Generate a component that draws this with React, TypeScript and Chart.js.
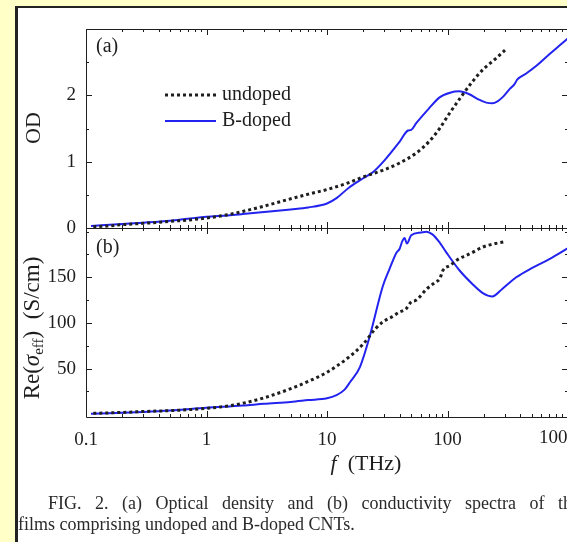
import React, { useEffect, useRef } from 'react';
import { Chart, registerables } from 'chart.js';
Chart.register(...registerables);

// ---------- data ----------
const freqUndopedOD = [0.115, 0.15, 0.2, 0.3, 0.5, 0.7, 1, 1.5, 2, 3, 5, 7, 10, 15, 20, 30, 40, 55, 70, 86, 104, 130, 160, 200, 250, 300];
const odUndoped = [0.02, 0.03, 0.05, 0.07, 0.10, 0.12, 0.15, 0.20, 0.25, 0.33, 0.44, 0.51, 0.58, 0.68, 0.77, 0.88, 0.98, 1.13, 1.30, 1.50, 1.73, 1.98, 2.20, 2.40, 2.55, 2.68];

const freqBdopedOD = [0.11, 0.2, 0.3, 0.5, 0.7, 1, 1.5, 2, 3, 5, 7, 10, 12, 15, 20, 24, 30, 40, 47, 50, 55, 70, 86, 105, 125, 150, 180, 210, 236, 260, 290, 330, 360, 380, 450, 550, 700, 850, 1000];
const odBdoped = [0.03, 0.06, 0.08, 0.11, 0.14, 0.17, 0.19, 0.21, 0.24, 0.28, 0.31, 0.37, 0.45, 0.60, 0.75, 0.84, 1.02, 1.30, 1.47, 1.48, 1.58, 1.80, 1.97, 2.04, 2.06, 2.02, 1.94, 1.89, 1.88, 1.91, 1.98, 2.10, 2.17, 2.24, 2.33, 2.45, 2.62, 2.75, 2.86];

const freqUndopedSigma = [0.115, 0.2, 0.3, 0.5, 0.7, 1, 1.5, 2, 3, 5, 7, 10, 15, 20, 25, 29, 35, 40, 45, 50, 55, 67, 80, 86, 92, 105, 120, 160, 195, 250, 300];
const sigmaUndoped = [1, 2, 3, 4, 5, 6.5, 9, 12, 18, 28, 36, 46, 62, 77, 93, 101, 107, 112, 115, 123, 125, 137, 145, 148, 158, 163, 169, 177, 183, 187, 189];

const freqBdopedSigma = [0.11, 0.3, 0.5, 1, 2, 3, 5, 7, 10, 12, 14, 15.5, 18.8, 22.6, 29, 33, 37.7, 40, 42, 44, 46, 50, 60, 67, 75, 85, 98, 125, 160, 195, 236, 283, 372, 500, 700, 1000];
const sigmaBdoped = [0.5, 2.5, 4, 7, 9.5, 11.5, 13.5, 15.5, 17.5, 21, 27, 35, 52, 85, 140, 159, 177, 181, 189, 193, 187, 196, 199, 200, 197, 189, 177, 158, 143, 133, 129, 137, 150, 160, 170, 182];

const xTickLabels = ['0.1', '1', '10', '100', '1000'];
const odTickLabels = ['0', '1', '2'];
const sigmaTickLabels = ['50', '100', '150'];
const seriesNames = ['undoped', 'B-doped'];

// ---------- styles ----------
const SERIF = "'Liberation Serif', 'Times New Roman', serif";
const INK = '#1e1e1e';
const BLUE = '#2323f0';
const W = 620;
const H = 542;

const toPoints = (xs: number[], ys: number[]) => xs.map((x, i) => ({ x, y: ys[i] }));

const xTickValues = (() => {
  const out: number[] = [];
  for (let d = -1; d <= 2; d++) {
    for (let m = 1; m <= 9; m++) out.push(m * Math.pow(10, d));
  }
  out.push(1000);
  return out;
})();

const isDecade = (v: number) => Math.abs(Math.log10(v) - Math.round(Math.log10(v))) < 1e-6;
const fmtDecade = (v: number) => {
  const e = Math.round(Math.log10(v));
  const s = e < 0 ? '0.1' : String(Math.pow(10, e));
  return xTickLabels.includes(s) ? s : '';
};
const LAST_X_LABEL = xTickLabels[xTickLabels.length - 1];

const framePlugin = {
  id: 'frame',
  afterDraw(chart: any) {
    const { ctx, chartArea } = chart;
    const { left, right, top, bottom } = chartArea;
    const xs = chart.scales.x;
    const ys = chart.scales.y;
    ctx.save();
    ctx.strokeStyle = INK;
    ctx.lineWidth = 1;
    ctx.beginPath();
    ctx.rect(Math.round(left) + 0.5, Math.round(top) + 0.5, Math.round(right - left), Math.round(bottom - top));
    ctx.stroke();
    ctx.beginPath();
    for (const v of xTickValues) {
      const px = Math.round(xs.getPixelForValue(v)) + 0.5;
      const len = isDecade(v) ? 6 : 3;
      ctx.moveTo(px, top);
      ctx.lineTo(px, top + len);
      ctx.moveTo(px, bottom);
      ctx.lineTo(px, bottom - len);
    }
    for (const t of ys.ticks) {
      const py = Math.round(ys.getPixelForValue(t.value)) + 0.5;
      const len = t.major ? 6 : 3;
      ctx.moveTo(left, py);
      ctx.lineTo(left + len, py);
      ctx.moveTo(right, py);
      ctx.lineTo(right - len, py);
    }
    ctx.stroke();
    ctx.restore();
  },
};

const annotTop = {
  id: 'annotTop',
  afterDraw(chart: any) {
    const { ctx } = chart;
    ctx.save();
    ctx.fillStyle = INK;
    ctx.font = `20px ${SERIF}`;
    ctx.textBaseline = 'middle';
    ctx.textAlign = 'left';
    ctx.fillText('(a)', 96, 47);
    // legend
    ctx.strokeStyle = INK;
    ctx.lineWidth = 3;
    ctx.setLineDash([3, 3]);
    ctx.beginPath();
    ctx.moveTo(165, 95);
    ctx.lineTo(216, 95);
    ctx.stroke();
    ctx.setLineDash([]);
    ctx.strokeStyle = BLUE;
    ctx.lineWidth = 2;
    ctx.beginPath();
    ctx.moveTo(165, 121);
    ctx.lineTo(216, 121);
    ctx.stroke();
    ctx.fillText(seriesNames[0], 222, 95);
    ctx.fillText(seriesNames[1], 222, 121);
    // y title
    ctx.translate(33, 128);
    ctx.rotate(-Math.PI / 2);
    ctx.textAlign = 'center';
    ctx.font = `22px ${SERIF}`;
    ctx.fillText('OD', 0, 1);
    ctx.restore();
  },
};

const annotBottom = {
  id: 'annotBottom',
  afterDraw(chart: any) {
    const { ctx } = chart;
    const xs = chart.scales.x;
    ctx.save();
    ctx.fillStyle = INK;
    ctx.font = `20px ${SERIF}`;
    ctx.textBaseline = 'middle';
    ctx.textAlign = 'left';
    ctx.fillText('(b)', 96, 248);
    // last x tick label, shifted inward as in the reference
    ctx.font = `19px ${SERIF}`;
    ctx.textAlign = 'center';
    ctx.fillText(LAST_X_LABEL, xs.getPixelForValue(1000) - 10, 438);
    // x title
    ctx.textAlign = 'left';
    ctx.font = `italic 22px ${SERIF}`;
    const fW = ctx.measureText('f').width;
    ctx.font = `22px ${SERIF}`;
    const restW = ctx.measureText('  (THz)').width;
    const x0 = 366 - (fW + restW) / 2;
    ctx.font = `italic 22px ${SERIF}`;
    ctx.fillText('f', x0, 464);
    ctx.font = `22px ${SERIF}`;
    ctx.fillText('  (THz)', x0 + fW, 464);
    // y title with subscript
    ctx.translate(33, 328);
    ctx.rotate(-Math.PI / 2);
    const big = `23px ${SERIF}`;
    const bigIt = `italic 23px ${SERIF}`;
    const small = `15px ${SERIF}`;
    const parts: [string, string, number][] = [
      ['Re(', big, 0],
      ['σ', bigIt, 0],
      ['eff', small, 6],
      [')  (S/cm)', big, 0],
    ];
    let total = 0;
    for (const [t, f] of parts) { ctx.font = f; total += ctx.measureText(t).width; }
    let x = -total / 2;
    for (const [t, f, dy] of parts) {
      ctx.font = f;
      ctx.fillText(t, x, dy);
      x += ctx.measureText(t).width;
    }
    ctx.restore();
  },
};

const baseX = (showLabels: boolean, height: number) => ({
  type: 'logarithmic' as const,
  min: 0.1,
  max: 1000,
  grid: { display: false, drawTicks: false },
  border: { display: false },
  afterBuildTicks: (scale: any) => {
    scale.ticks = xTickValues.map((value) => ({ value, major: isDecade(value) }));
  },
  afterFit: (scale: any) => { scale.height = height; },
  ticks: {
    display: showLabels,
    autoSkip: false,
    maxRotation: 0,
    padding: 12,
    color: INK,
    font: { family: SERIF, size: 19 },
    callback: (v: any) => {
      const n = Number(v);
      if (!isDecade(n)) return '';
      const s = fmtDecade(n);
      return s === LAST_X_LABEL ? '' : s;
    },
  },
});

const baseY = (min: number, max: number, values: number[], labels: string[]) => ({
  type: 'linear' as const,
  min,
  max,
  grid: { display: false, drawTicks: false },
  border: { display: false },
  afterBuildTicks: (scale: any) => {
    scale.ticks = values.map((value) => ({ value, major: labels.includes(String(value)) }));
  },
  afterFit: (scale: any) => { scale.width = 86; },
  ticks: {
    autoSkip: false,
    padding: 10,
    color: INK,
    font: { family: SERIF, size: 19 },
    callback: (v: any) => (labels.includes(String(v)) ? String(v) : ''),
  },
});

const lineDs = (label: string, data: any[], undoped: boolean) => ({
  label,
  data,
  borderColor: undoped ? INK : BLUE,
  borderWidth: undoped ? 3 : 2,
  borderDash: undoped ? [3, 3] : [],
  borderCapStyle: 'butt' as const,
  pointRadius: 0,
  fill: false,
  cubicInterpolationMode: 'monotone' as const,
});

export default function App() {
  const refA = useRef<HTMLCanvasElement>(null);
  const refB = useRef<HTMLCanvasElement>(null);

  useEffect(() => {
    const common = {
      animation: false as const,
      responsive: false,
      events: [] as any[],
      plugins: { legend: { display: false }, tooltip: { enabled: false } },
    };
    const chartA = new Chart(refA.current!, {
      type: 'line',
      data: {
        datasets: [
          lineDs(seriesNames[0], toPoints(freqUndopedOD, odUndoped), true),
          lineDs(seriesNames[1], toPoints(freqBdopedOD, odBdoped), false),
        ],
      },
      options: {
        ...common,
        layout: { padding: { left: 0, right: W - 568, top: 29, bottom: H - 228 } },
        scales: {
          x: baseX(false, 0),
          y: baseY(0, 3, [0, 0.5, 1, 1.5, 2, 2.5], odTickLabels),
        },
      } as any,
      plugins: [framePlugin, annotTop],
    });
    const chartB = new Chart(refB.current!, {
      type: 'line',
      data: {
        datasets: [
          lineDs(seriesNames[0], toPoints(freqUndopedSigma, sigmaUndoped), true),
          lineDs(seriesNames[1], toPoints(freqBdopedSigma, sigmaBdoped), false),
        ],
      },
      options: {
        ...common,
        layout: { padding: { left: 0, right: W - 568, top: 228, bottom: 0 } },
        scales: {
          x: baseX(true, H - 417),
          y: baseY(-3, 204, [25, 50, 75, 100, 125, 150, 175, 200], sigmaTickLabels),
        },
      } as any,
      plugins: [framePlugin, annotBottom],
    });
    return () => {
      chartA.destroy();
      chartB.destroy();
    };
  }, []);

  const captionStyle: React.CSSProperties = {
    position: 'absolute',
    whiteSpace: 'nowrap',
    fontFamily: SERIF,
    fontSize: 18,
    lineHeight: '20px',
    color: '#2a2a2a',
  };

  return (
    <div style={{ position: 'absolute', left: 0, top: 0, width: 567, height: 542, overflow: 'hidden', background: '#FFFFC8' }}>
      <div style={{ position: 'absolute', left: 15, top: 6, width: 700, height: 700, background: '#fff', borderTop: '2px solid #222', borderLeft: '3px solid #222' }} />
      <canvas ref={refA} width={W} height={H} style={{ position: 'absolute', left: 0, top: 0, width: W, height: H }} />
      <canvas ref={refB} width={W} height={H} style={{ position: 'absolute', left: 0, top: 0, width: W, height: H }} />
      <div style={{ ...captionStyle, left: 48, top: 493, wordSpacing: '9px' }}>
        FIG. 2. (a) Optical density and (b) conductivity spectra of the
      </div>
      <div style={{ ...captionStyle, left: 18, top: 514 }}>
        films comprising undoped and B-doped CNTs.
      </div>
    </div>
  );
}
